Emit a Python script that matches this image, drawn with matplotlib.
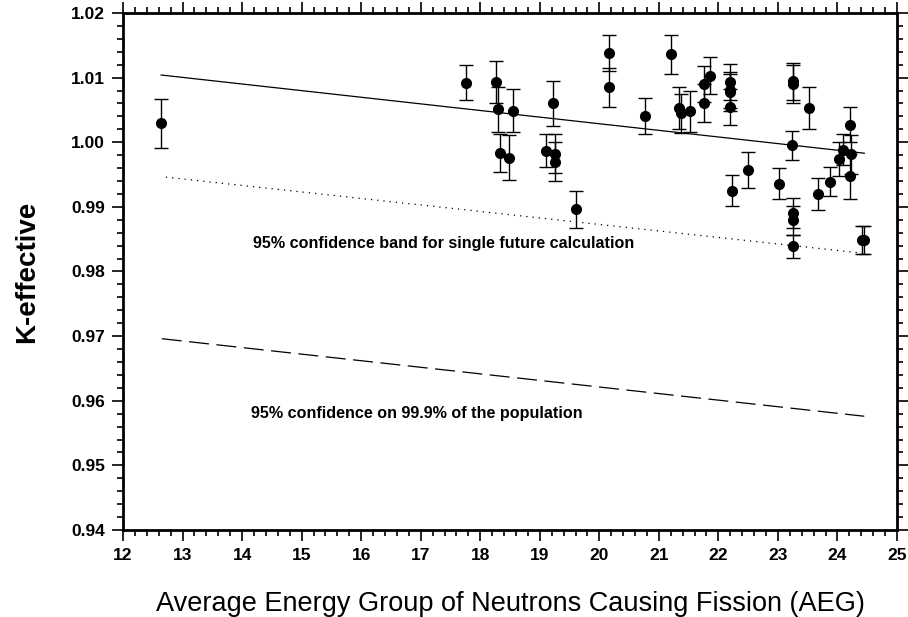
import numpy as np
import matplotlib
matplotlib.use("Agg")
import matplotlib.pyplot as plt
from matplotlib.ticker import MultipleLocator

plt.rcParams['font.family'] = ['Liberation Sans', 'DejaVu Sans']

# benchmark points: AEG, k-eff, 1-sigma error
aeg = [12.64, 17.76, 18.26, 18.29, 18.55, 18.34, 18.49, 19.22, 19.11, 19.25,
       19.25, 19.61, 20.17, 20.17, 20.76, 21.20, 21.33, 21.37, 21.53, 21.76,
       21.76, 21.86, 22.20, 22.20, 22.20, 22.20, 22.23, 22.49, 23.01, 23.23,
       23.26, 23.26, 23.26, 23.26, 23.26, 23.52, 23.67, 23.88, 24.03, 24.10,
       24.21, 24.23, 24.21, 24.42, 24.45]
keff = [1.0029, 1.0092, 1.0093, 1.0051, 1.0049, 0.9983, 0.9976, 1.0060, 0.9987, 0.9982,
        0.9970, 0.9896, 1.0138, 1.0085, 1.0040, 1.0136, 1.0053, 1.0045, 1.0048, 1.0090,
        1.0061, 1.0103, 1.0093, 1.0081, 1.0077, 1.0055, 0.9925, 0.9957, 0.9936, 0.9995,
        1.0094, 1.0090, 0.9890, 0.9879, 0.9839, 1.0053, 0.9920, 0.9939, 0.9974, 0.9988,
        1.0027, 0.9981, 0.9947, 0.9849, 0.9849]
sigma = [0.0038, 0.0027, 0.0033, 0.0035, 0.0033, 0.0029, 0.0035, 0.0035, 0.0025, 0.0030,
         0.0030, 0.0029, 0.0028, 0.0030, 0.0028, 0.0030, 0.0033, 0.0030, 0.0032, 0.0028,
         0.0029, 0.0029, 0.0028, 0.0028, 0.0028, 0.0028, 0.0024, 0.0028, 0.0024, 0.0023,
         0.0029, 0.0029, 0.0023, 0.0023, 0.0018, 0.0033, 0.0025, 0.0022, 0.0026, 0.0024,
         0.0027, 0.0030, 0.0035, 0.0022, 0.0022]

# trend line and lower bands (end points)
line_x = [12.64, 24.45]
fit_y = [1.0104, 0.9983]
band_x = [12.72, 24.45]
band_y = [0.9946, 0.9828]
usl_x = [12.65, 24.45]
usl_y = [0.9696, 0.9576]

fig = plt.figure(figsize=(9.08, 6.17), dpi=100)
ax = fig.add_axes([0.1355, 0.141, 0.8524, 0.838])

ax.errorbar(aeg, keff, yerr=sigma, fmt='o', color='black', ms=7,
            elinewidth=1, capsize=5, capthick=1)
ax.plot(line_x, fit_y, '-', color='black', lw=0.9)
ax.plot(band_x, band_y, linestyle=(0, (1, 4)), color='black', lw=0.9)
ax.plot(usl_x, usl_y, linestyle=(0, (16, 6)), color='black', lw=0.9)

ax.text(14.18, 0.9844, '95% confidence band for single future calculation',
        fontsize=11.6, fontweight='bold', va='center', ha='left')
ax.text(14.15, 0.9581, '95% confidence on 99.9% of the population',
        fontsize=11.6, fontweight='bold', va='center', ha='left')

ax.set_xlim(12, 25)
ax.set_ylim(0.94, 1.02)
ax.xaxis.set_major_locator(MultipleLocator(1))
ax.xaxis.set_minor_locator(MultipleLocator(0.2))
ax.yaxis.set_major_locator(MultipleLocator(0.01))
ax.yaxis.set_minor_locator(MultipleLocator(0.002))
ax.yaxis.set_major_formatter(matplotlib.ticker.FormatStrFormatter('%.2f'))

ax.tick_params(which='both', direction='out', top=True, right=True,
               labeltop=False, labelright=False, width=1.2)
ax.tick_params(which='major', length=8, labelsize=12.5)
ax.tick_params(which='minor', length=4)
ax.tick_params(axis='x', pad=5)
ax.tick_params(axis='y', pad=5)
for lbl in ax.get_xticklabels() + ax.get_yticklabels():
    lbl.set_fontweight('bold')
for s in ax.spines.values():
    s.set_linewidth(2)

ax.set_xlabel('Average Energy Group of Neutrons Causing Fission (AEG)',
              fontsize=19.5, labelpad=20)
ax.set_ylabel('K-effective', fontsize=20, fontweight='bold', labelpad=22)

fig.savefig('out.png', dpi=100)
